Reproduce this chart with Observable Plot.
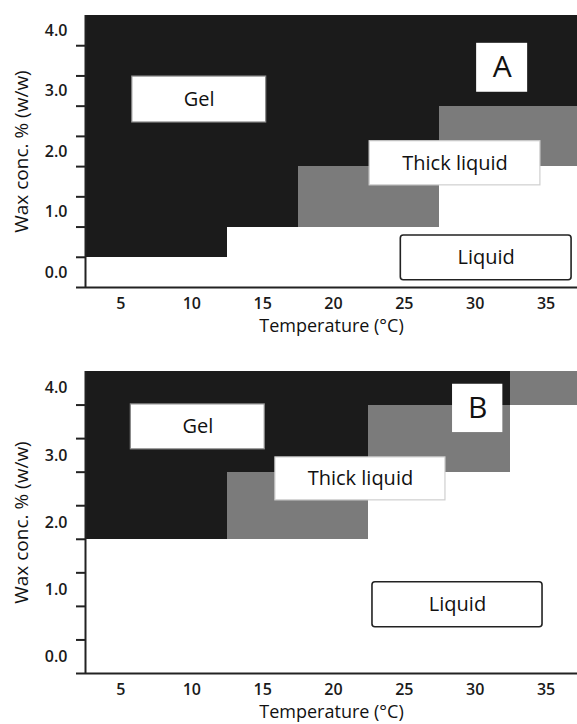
<!DOCTYPE html>
<html>
<head>
<meta charset="utf-8">
<script src="https://cdn.jsdelivr.net/npm/d3@7"></script>
<script src="https://cdn.jsdelivr.net/npm/@observablehq/plot@0.6"></script>
<style>
  html, body { margin: 0; padding: 0; background: #fff; }
  #chart { width: 577px; }
  #chart svg { display: block; overflow: hidden; }
</style>
</head>
<body>
<div id="chart"></div>
<script>
// ---- data ----
const temps = [5, 10, 15, 20, 25, 30, 35];                 // Temperature (°C) categories
const concSteps = [0, 0.5, 1, 1.5, 2, 2.5, 3, 3.5, 4];      // Wax conc. % (w/w) categories
const concLabels = [0, 1, 2, 3, 4];                         // labelled concentrations
const phases = ["Liquid", "Thick liquid", "Gel"];
const phaseColors = ["#ffffff", "#7b7b7b", "#1b1b1b"];

// Panel A: highest concentration that is still liquid / thick liquid at each temperature
const liquidTopA = [0, 0, 0.5, 0.5, 0.5, 1.5, 1.5];
const thickTopA  = [0, 0, 0.5, 1.5, 1.5, 2.5, 2.5];
// Panel B
const liquidTopB = [1.5, 1.5, 1.5, 1.5, 2.5, 2.5, 3.5];
const thickTopB  = [1.5, 1.5, 2.5, 2.5, 3.5, 3.5, 4.0];

// Annotation boxes (data units): Gel, Thick liquid, Liquid, panel letter
const boxTextA = ["Gel", "Thick liquid", "Liquid", "A"];
const boxX1A = [5.8, 22.55, 24.75, 30.1];
const boxX2A = [15.25, 34.6, 36.8, 33.7];
const boxY1A = [2.48, 1.44, -0.13, 2.98];
const boxY2A = [3.24, 2.17, 0.61, 3.79];

const boxTextB = ["Gel", "Thick liquid", "Liquid", "B"];
const boxX1B = [5.7, 15.9, 22.75, 28.4];
const boxX2B = [15.15, 27.9, 34.75, 31.95];
const boxY1B = [3.09, 2.33, 0.44, 3.34];
const boxY2B = [3.76, 2.97, 1.11, 4.06];

const xTitle = "Temperature (°C)";
const yTitle = "Wax conc. % (w/w)";

// ---- drawing ----
const half = 0.25, tHalf = 2.5;
const yLo = concSteps[0] - half, yHi = concSteps[concSteps.length - 1] + half;
const xLo = temps[0] - tHalf, xHi = temps[temps.length - 1] + tHalf;
const rowEdges = concSteps.map(c => c - half);
const font = "'Open Sans', sans-serif";

function panel({liquidTop, thickTop, text, x1, x2, y1, y2, height, marginTop, marginBottom}) {
  const cells = [];
  temps.forEach((t, i) => {
    cells.push({t, phase: "Liquid", y1: yLo, y2: liquidTop[i] + half});
    cells.push({t, phase: "Thick liquid", y1: liquidTop[i] + half, y2: thickTop[i] + half});
    cells.push({t, phase: "Gel", y1: thickTop[i] + half, y2: yHi});
  });
  const cellsNZ = cells.filter(d => d.y2 > d.y1);
  const boxes = text.map((s, i) => ({s, x1: x1[i], x2: x2[i], y1: y1[i], y2: y2[i]}));
  const byIdx = k => [boxes[k]];
  return Plot.plot({
    width: 577,
    height,
    marginLeft: 85,
    marginRight: 0,
    marginTop,
    marginBottom,
    style: {fontFamily: font, fontSize: "16px", color: "#1a1a1a", background: "#fff"},
    x: {domain: [xLo, xHi], range: [85, 581], axis: null},
    y: {domain: [yLo, yHi], axis: null},
    color: {domain: phases, range: phaseColors},
    marks: [
      Plot.rect(cellsNZ, {x1: d => d.t - tHalf, x2: d => d.t + tHalf, y1: "y1", y2: "y2", fill: "phase", shapeRendering: "crispEdges"}),
      // annotation boxes
      Plot.rect(byIdx(0), {x1: "x1", x2: "x2", y1: "y1", y2: "y2", fill: "#fff", stroke: "#8a8a8a", strokeWidth: 1.2}),
      Plot.rect(byIdx(1), {x1: "x1", x2: "x2", y1: "y1", y2: "y2", fill: "#fff", stroke: "#cfcfcf", strokeWidth: 1.2}),
      Plot.rect(byIdx(2), {x1: "x1", x2: "x2", y1: "y1", y2: "y2", fill: "#fff", stroke: "#222", strokeWidth: 1.6, rx: 3}),
      Plot.rect(byIdx(3), {x1: "x1", x2: "x2", y1: "y1", y2: "y2", fill: "#fff"}),
      Plot.text(boxes.slice(0, 3), {x: d => (d.x1 + d.x2) / 2, y: d => (d.y1 + d.y2) / 2, text: "s", fontSize: 20, letterSpacing: 0.6, fill: "#111", lineAnchor: "middle"}),
      Plot.text(boxes.slice(3), {x: d => (d.x1 + d.x2) / 2, y: d => (d.y1 + d.y2) / 2, text: "s", fontSize: 30, fill: "#111", lineAnchor: "middle"}),
      // axes
      Plot.ruleX([xLo], {y1: yLo, y2: yHi, stroke: "#222", strokeWidth: 2}),
      Plot.ruleY([yLo], {stroke: "#222", strokeWidth: 2}),
      Plot.axisY({ticks: rowEdges, tickSize: 9, tickFormat: () => "", label: null, stroke: "#222", strokeWidth: 2}),
      Plot.axisY({ticks: concLabels, tickSize: 0, tickPadding: 18, tickFormat: d3.format(".1f"), label: null, fontSize: 16, fontWeight: 600, fill: "#1a1a1a"}),
      Plot.axisX({ticks: temps, tickSize: 0, tickPadding: 10, label: null, fontSize: 16, fontWeight: 600, fill: "#1a1a1a"}),
      Plot.text([xTitle], {frameAnchor: "bottom", dy: 39, text: d => d, fontSize: 18, letterSpacing: 0.8, fill: "#111", lineAnchor: "middle", textAnchor: "middle"}),
      Plot.text([yTitle], {frameAnchor: "left", dx: -64, rotate: -90, text: d => d, fontSize: 19, letterSpacing: 0.9, fill: "#111", lineAnchor: "middle", textAnchor: "middle"})
    ]
  });
}

const chart = document.getElementById("chart");
chart.append(panel({liquidTop: liquidTopA, thickTop: thickTopA, text: boxTextA, x1: boxX1A, x2: boxX2A, y1: boxY1A, y2: boxY2A, height: 340, marginTop: 15, marginBottom: 53}));
chart.append(panel({liquidTop: liquidTopB, thickTop: thickTopB, text: boxTextB, x1: boxX1B, x2: boxX2B, y1: boxY1B, y2: boxY2B, height: 384, marginTop: 31, marginBottom: 51}));
</script>
</body>
</html>
